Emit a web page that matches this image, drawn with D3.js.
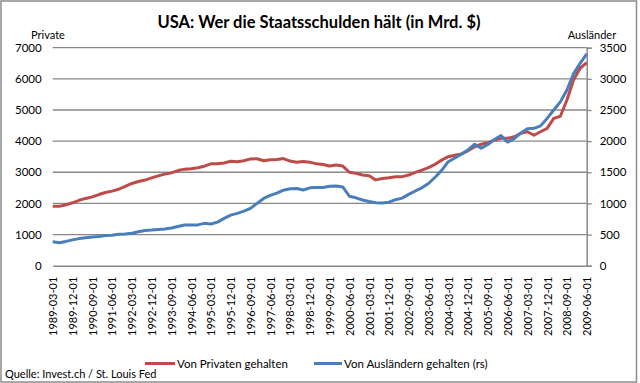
<!DOCTYPE html>
<html><head><meta charset="utf-8">
<script src="https://cdn.jsdelivr.net/npm/d3@7"></script>
<style>body{margin:0;background:#fff}svg{display:block}text{font-family:Lato,"Open Sans",sans-serif}</style>
</head><body><svg id="c" width="640" height="383"></svg>
<script>
const title = "USA: Wer die Staatsschulden hält (in Mrd. $)";
const leftTitle = "Private";
const rightTitle = "Ausländer";
const source = "Quelle: Invest.ch / St. Louis Fed";
const seriesNames = ["Von Privaten gehalten", "Von Ausländern gehalten (rs)"];
const leftTicks = [0,1000,2000,3000,4000,5000,6000,7000];
const rightTicks = [0,500,1000,1500,2000,2500,3000,3500];
// quarterly dates 1989-03-01 .. 2009-06-01
const dates = [
"1989-03-01","1989-06-01","1989-09-01","1989-12-01","1990-03-01","1990-06-01","1990-09-01","1990-12-01",
"1991-03-01","1991-06-01","1991-09-01","1991-12-01","1992-03-01","1992-06-01","1992-09-01","1992-12-01",
"1993-03-01","1993-06-01","1993-09-01","1993-12-01","1994-03-01","1994-06-01","1994-09-01","1994-12-01",
"1995-03-01","1995-06-01","1995-09-01","1995-12-01","1996-03-01","1996-06-01","1996-09-01","1996-12-01",
"1997-03-01","1997-06-01","1997-09-01","1997-12-01","1998-03-01","1998-06-01","1998-09-01","1998-12-01",
"1999-03-01","1999-06-01","1999-09-01","1999-12-01","2000-03-01","2000-06-01","2000-09-01","2000-12-01",
"2001-03-01","2001-06-01","2001-09-01","2001-12-01","2002-03-01","2002-06-01","2002-09-01","2002-12-01",
"2003-03-01","2003-06-01","2003-09-01","2003-12-01","2004-03-01","2004-06-01","2004-09-01","2004-12-01",
"2005-03-01","2005-06-01","2005-09-01","2005-12-01","2006-03-01","2006-06-01","2006-09-01","2006-12-01",
"2007-03-01","2007-06-01","2007-09-01","2007-12-01","2008-03-01","2008-06-01","2008-09-01","2008-12-01",
"2009-03-01","2009-06-01"];
const privat = [
1905,1905,1955,2020,2100,2160,2210,2285,2350,2395,2455,2550,2640,2705,2750,2820,
2885,2940,2980,3055,3100,3115,3145,3195,3270,3275,3300,3355,3340,3370,3430,3435,
3370,3400,3410,3440,3360,3325,3345,3325,3270,3250,3200,3235,3200,3000,2965,2915,
2890,2755,2800,2825,2855,2860,2910,2995,3070,3150,3255,3390,3500,3545,3590,3690,
3820,3900,3945,4030,4090,4090,4140,4250,4300,4190,4300,4410,4730,4800,5320,5960,
6340,6520];
const ausland = [
385,370,390,415,435,450,462,468,485,490,505,508,522,545,565,572,
582,588,605,630,652,655,655,680,670,700,760,812,840,875,920,1000,
1080,1128,1165,1212,1235,1238,1215,1250,1255,1255,1275,1280,1265,1115,1090,1055,
1030,1010,1005,1020,1060,1085,1145,1200,1250,1320,1420,1530,1670,1730,1790,1860,
1950,1885,1945,2025,2090,1985,2040,2130,2200,2205,2245,2365,2500,2630,2820,3080,
3250,3400];

const svg = d3.select("#c");
const L = 52.7, R = 586.7, T = 47.7, B = 265.7;
const x = d3.scalePoint().domain(dates).range([L, R]);
const yL = d3.scaleLinear().domain([0,7000]).range([B, T]);
const yR = d3.scaleLinear().domain([0,3500]).range([B, T]);
const grid = "#888888";
const fmt = d3.format("d");

svg.append("rect").attr("x",1).attr("y",1).attr("width",635.5).attr("height",381).attr("fill","#fff").attr("stroke","#8c8c8c").attr("stroke-width",1.5);

// gridlines
svg.append("g").selectAll("line").data(leftTicks.slice(1)).join("line")
  .attr("x1",L).attr("x2",R).attr("y1",d=>yL(d)).attr("y2",d=>yL(d))
  .attr("stroke",grid).attr("stroke-width",1.3);

// left axis labels
const gl = svg.append("g").attr("transform",`translate(${L},0)`)
  .call(d3.axisLeft(yL).tickValues(leftTicks).tickFormat(fmt).tickSize(0).tickPadding(11));
gl.select(".domain").remove();
gl.selectAll("text").attr("font-size",11.5).attr("fill","#000").style("font-family","Lato");

// right axis
const gr = svg.append("g").attr("transform",`translate(${R},0)`)
  .call(d3.axisRight(yR).tickValues(rightTicks).tickFormat(fmt).tickSize(5).tickPadding(8));
gr.select(".domain").attr("stroke",grid).attr("stroke-width",1.5);
gr.selectAll("line").attr("stroke",grid).attr("stroke-width",1.3);
gr.selectAll("text").attr("font-size",11.5).attr("fill","#000").style("font-family","Lato");

// bottom axis
const gb = svg.append("g").attr("transform",`translate(0,${B})`)
  .call(d3.axisBottom(x).tickValues(dates.filter((d,i)=>i%3===0)).tickSize(0).tickPadding(0));
gb.select(".domain").attr("stroke",grid).attr("stroke-width",1.5);
gb.selectAll("text").attr("font-size",11).attr("fill","#000").style("font-family","Lato")
  .attr("text-anchor","end").attr("transform","translate(0,11) rotate(-90)").attr("dy","0.35em").attr("x",0).attr("y",0);

// lines
svg.append("path").datum(privat).attr("fill","none").attr("stroke","#BE4B48").attr("stroke-width",3).attr("stroke-linejoin","round")
  .attr("d", d3.line().x((d,i)=>x(dates[i])).y(d=>yL(d)));
svg.append("path").datum(ausland).attr("fill","none").attr("stroke","#4A7EBB").attr("stroke-width",3).attr("stroke-linejoin","round")
  .attr("d", d3.line().x((d,i)=>x(dates[i])).y(d=>yR(d)));

// titles
svg.append("text").attr("x",319).attr("y",28).attr("text-anchor","middle").attr("font-size",16.5).attr("font-weight","bold").text(title);
svg.append("text").attr("x",48).attr("y",39).attr("text-anchor","middle").attr("font-size",11).text(leftTitle);
svg.append("text").attr("x",592).attr("y",39).attr("text-anchor","middle").attr("font-size",11).text(rightTitle);

// legend
const lg = svg.append("g");
lg.append("line").attr("x1",145).attr("x2",175).attr("y1",363.5).attr("y2",363.5).attr("stroke","#BE4B48").attr("stroke-width",3);
lg.append("text").attr("x",177).attr("y",367.5).attr("font-size",11.5).text(seriesNames[0]);
lg.append("line").attr("x1",314).attr("x2",342).attr("y1",363.5).attr("y2",363.5).attr("stroke","#4A7EBB").attr("stroke-width",3);
lg.append("text").attr("x",344).attr("y",367.5).attr("font-size",11.5).text(seriesNames[1]);

svg.append("text").attr("x",5).attr("y",378).attr("font-size",11).text(source);
</script></body></html>
